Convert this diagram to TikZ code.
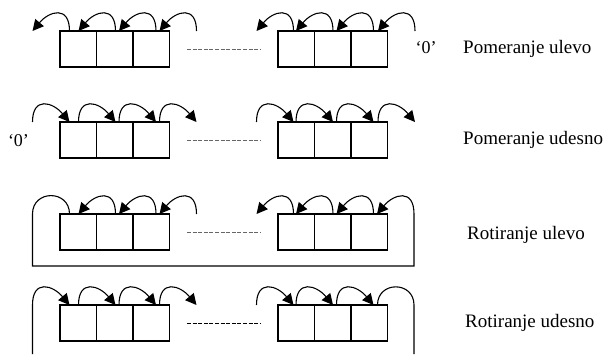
\documentclass[tikz,border=0pt]{standalone}
\usepackage{fontspec}
\setmainfont{Liberation Serif}
\usetikzlibrary{arrows.meta}
\begin{document}
\begin{tikzpicture}[x=1pt,y=1pt,
  cell/.style={draw, line width=1.1pt, minimum width=36.5pt, minimum height=36pt,
               inner sep=0pt, outer sep=0pt},
  hop/.style={line width=1.1pt, -{Triangle[length=11pt,width=11pt]}},
  wrap/.style={line width=1.1pt},
  gap/.style={dash pattern=on 4pt off 1.6pt, line width=0.9pt, draw=black!60},
  lbl/.style={font=\fontsize{19}{22}\selectfont, anchor=west, inner sep=0pt},
  zero/.style={font=\fontsize{18}{21}\selectfont, inner sep=0pt}]
\useasboundingbox (0,0) rectangle (614,-354);

% four registers: two groups of three cells each
\foreach \r/\t in {a/31, b/122, c/214, d/305} {
  \node[cell] (\r1) at (78.25,{-\t-18}) {};
  \node[cell] (\r2) at (114.75,{-\t-18}) {};
  \node[cell] (\r3) at (151.25,{-\t-18}) {};
  \node[cell] (\r4) at (296.25,{-\t-18}) {};
  \node[cell] (\r5) at (332.75,{-\t-18}) {};
  \node[cell] (\r6) at (369.25,{-\t-18}) {};
}

% the omitted middle bits
\draw[gap] ([xshift=17.5pt]a3.east) -- ([xshift=-18pt]a4.west);
\draw[gap] ([xshift=17.5pt]b3.east) -- ([xshift=-18pt]b4.west);
\draw[gap] ([xshift=17.5pt]c3.east) -- ([xshift=-18pt]c4.west);
\draw[gap, draw=black] ([xshift=17.5pt]d3.east) -- ([xshift=-18pt]d4.west);

% shift left
\foreach \c in {51,97,137.5,178,275,314.5,355,396.5}
  \draw[hop] (\c+18.5,-31) to[out=90,in=50,looseness=1.8] (\c-18.5,-31);
\node[zero] (z1) at (426,-48) {‘0’};
\node[lbl] (t1) at (463,-49) {Pomeranje ulevo};

% shift right
\foreach \c in {51,97,137.5,178,275,314.5,355,396.5}
  \draw[hop] (\c-18.5,-122) to[out=90,in=130,looseness=1.8] (\c+18.5,-122);
\node[zero] (z2) at (18.5,-141) {‘0’};
\node[lbl] (t2) at (463,-140) {Pomeranje udesno};

% rotate left
\foreach \c in {97,137.5,178,275,314.5,355}
  \draw[hop] (\c+18.5,-214) to[out=90,in=50,looseness=1.8] (\c-18.5,-214);
\coordinate (cl) at (32.5,-214);
\coordinate (cr) at (414,-214);
\draw[wrap] (69.5,-214) to[out=90,in=90,looseness=1.7] (cl) -- (32.5,-266) -- (414,-266) -- (cr);
\draw[hop] (cr) to[out=90,in=50,looseness=1.8] (377,-214);
\node[lbl] (t3) at (467,-235) {Rotiranje ulevo};

% rotate right
\foreach \c in {97,137.5,178,275,314.5,355}
  \draw[hop] (\c-18.5,-305) to[out=90,in=130,looseness=1.8] (\c+18.5,-305);
\coordinate (dl) at (32.5,-305);
\coordinate (dr) at (414,-305);
\draw[hop] (32.5,-354) -- (dl) to[out=90,in=130,looseness=1.8] (69.5,-305);
\draw[wrap] (377.5,-305) to[out=90,in=90,looseness=1.7] (dr) -- (414,-354);
\node[lbl] (t4) at (465,-323) {Rotiranje udesno};
\end{tikzpicture}
\end{document}
